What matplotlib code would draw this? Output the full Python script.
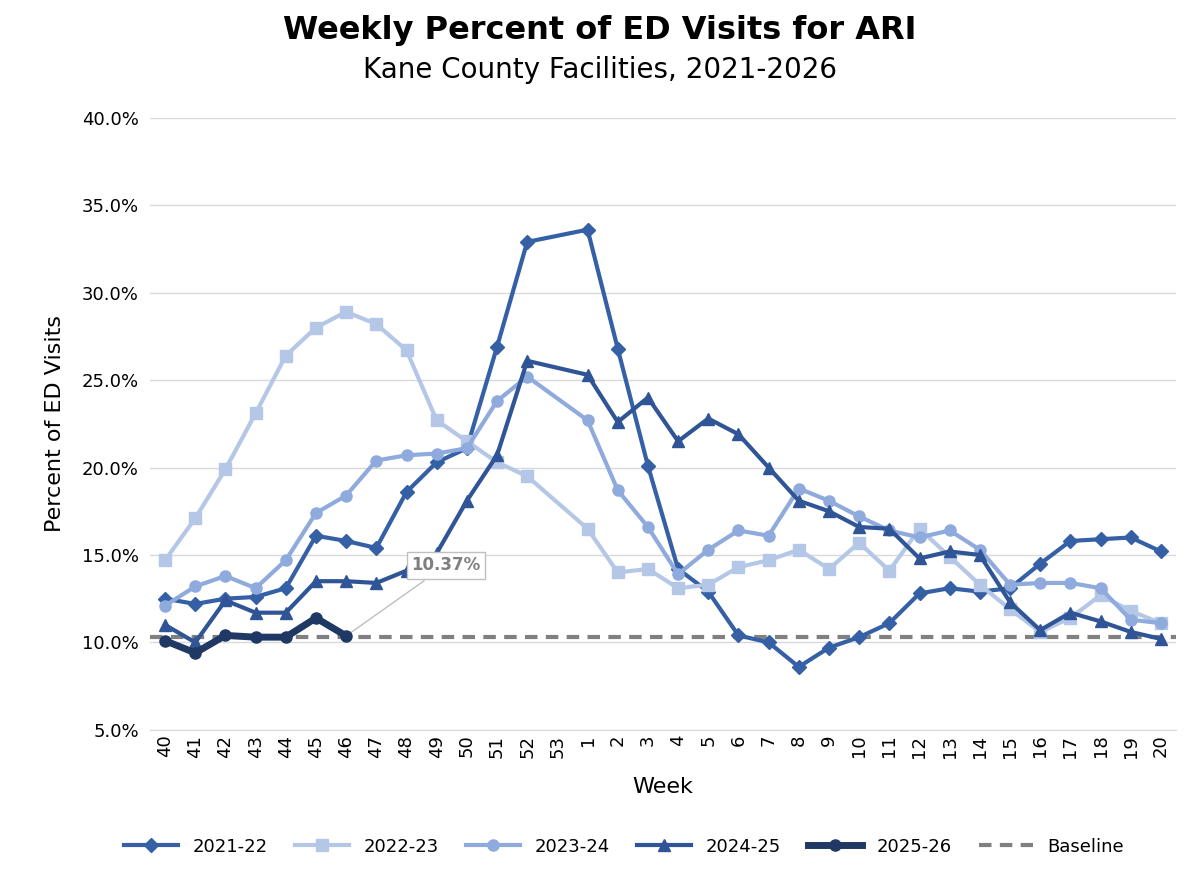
import numpy as np
import matplotlib.pyplot as plt

weeks = [str(w) for w in range(40, 54)] + [str(w) for w in range(1, 21)]
nan = np.nan

s2122 = [12.5, 12.2, 12.5, 12.6, 13.1, 16.1, 15.8, 15.4, 18.6, 20.3, 21.1, 26.9, 32.9, nan,
         33.6, 26.8, 20.1, 14.2, 12.9, 10.4, 10.0, 8.6, 9.7, 10.3, 11.1, 12.8, 13.1, 12.9,
         13.1, 14.5, 15.8, 15.9, 16.0, 15.2]
s2223 = [14.7, 17.1, 19.9, 23.1, 26.4, 28.0, 28.9, 28.2, 26.7, 22.7, 21.5, 20.3, 19.5, nan,
         16.5, 14.0, 14.2, 13.1, 13.3, 14.3, 14.7, 15.3, 14.2, 15.7, 14.1, 16.5, 14.9, 13.3,
         11.9, 10.6, 11.4, 12.7, 11.8, 11.1]
s2324 = [12.1, 13.2, 13.8, 13.1, 14.7, 17.4, 18.4, 20.4, 20.7, 20.8, 21.1, 23.8, 25.2, nan,
         22.7, 18.7, 16.6, 13.9, 15.3, 16.4, 16.1, 18.8, 18.1, 17.2, 16.4, 16.0, 16.4, 15.3,
         13.3, 13.4, 13.4, 13.1, 11.3, 11.1]
s2425 = [11.0, 10.0, 12.4, 11.7, 11.7, 13.5, 13.5, 13.4, 14.1, 15.1, 18.1, 20.7, 26.1, nan,
         25.3, 22.6, 24.0, 21.5, 22.8, 21.9, 20.0, 18.1, 17.5, 16.6, 16.5, 14.8, 15.2, 15.0,
         12.3, 10.7, 11.7, 11.2, 10.6, 10.2]
s2526 = [10.1, 9.4, 10.4, 10.3, 10.3, 11.4, 10.37]
baseline = 10.3

fig, ax = plt.subplots(figsize=(12, 8.72), dpi=100)
fig.subplots_adjust(left=0.125, right=0.98, top=0.865, bottom=0.163)

x = np.arange(len(weeks))


def draw(vals, color, marker, label, lw=3, ms=8, z=3):
    v = np.array(vals, dtype=float)
    xi = x[:len(v)]
    ok = ~np.isnan(v)
    ax.plot(xi[ok], v[ok], color=color, marker=marker, lw=lw, ms=ms, label=label, zorder=z)


draw(s2122, "#3560a6", "D", "2021-22", ms=7)
draw(s2223, "#b4c7e7", "s", "2022-23")
draw(s2324, "#8faadc", "o", "2023-24")
draw(s2425, "#2f5597", "^", "2024-25", ms=9)
draw(s2526, "#1f3864", "o", "2025-26", lw=5, ms=8, z=5)
ax.axhline(baseline, color="#808080", ls="--", lw=3, dashes=(3, 2), label="Baseline", zorder=2)

ax.annotate(f"{s2526[-1]:.2f}%", xy=(6, s2526[-1]), xytext=(9.3, 14.4),
            fontsize=12, fontweight="bold", color="#7f7f7f", ha="center", va="center",
            bbox=dict(boxstyle="square,pad=0.25", fc="white", ec="#bfbfbf"),
            arrowprops=dict(arrowstyle="-", color="#bfbfbf", lw=1))

ax.set_ylim(5, 40)
ax.set_yticks(np.arange(5, 41, 5))
ax.set_yticklabels([f"{t:.1f}%" for t in np.arange(5, 41, 5)], fontsize=13)
ax.set_xlim(-0.5, len(weeks) - 0.5)
ax.set_xticks(x)
ax.set_xticklabels(weeks, rotation=90, fontsize=13)
ax.tick_params(length=0)
ax.tick_params(axis="y", pad=8)
ax.grid(axis="y", color="#d9d9d9", lw=1)
ax.set_axisbelow(True)
for s in ["top", "right", "left"]:
    ax.spines[s].set_visible(False)
ax.spines["bottom"].set_color("#d9d9d9")
ax.set_xlabel("Week", fontsize=16, labelpad=14)
ax.set_ylabel("Percent of ED Visits", fontsize=16, labelpad=12)

fig.text(0.5, 0.955, "Weekly Percent of ED Visits for ARI", ha="center", fontsize=23, fontweight="bold")
fig.text(0.5, 0.91, "Kane County Facilities, 2021-2026", ha="center", fontsize=20)
fig.legend(loc="lower center", ncol=6, frameon=False, fontsize=13, bbox_to_anchor=(0.52, 0.0),
           handlelength=3, columnspacing=1.5)

fig.savefig("out.png")
